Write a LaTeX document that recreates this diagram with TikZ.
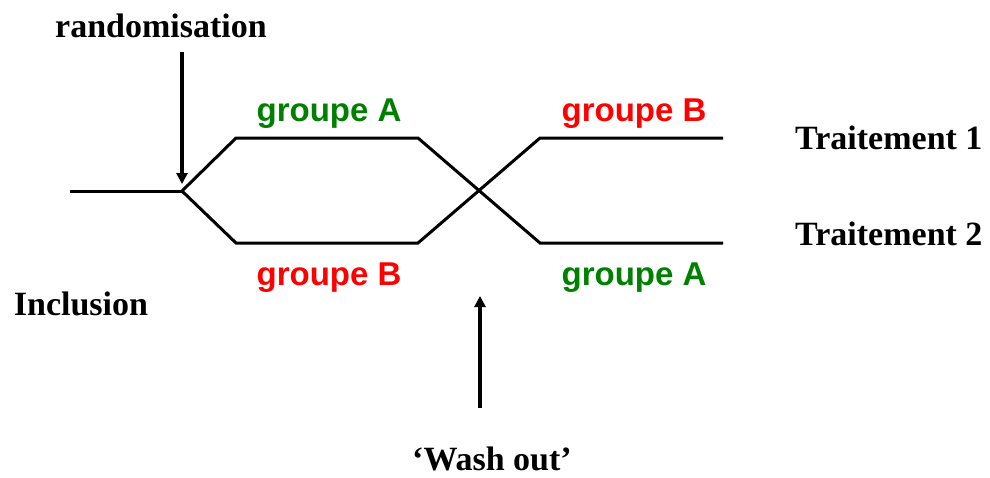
\documentclass[tikz,border=0pt]{standalone}
\usepackage{fontspec}
\setmainfont{Liberation Serif}
\newfontfamily\arialf{Liberation Sans}
\usetikzlibrary{arrows.meta}
\definecolor{grpgreen}{RGB}{0,128,0}
\definecolor{grpred}{RGB}{255,0,0}
\tikzset{
  lbl/.style={font=\fontsize{34}{38}\selectfont\bfseries, inner sep=0pt},
  grp/.style={font=\arialf\fontsize{33}{38}\selectfont\bfseries, inner sep=0pt},
  track/.style={line width=3pt, line join=miter},
  pointer/.style={line width=4pt, -{Triangle[length=11pt,width=11pt]}}
}
\begin{document}
\begin{tikzpicture}[x=1pt,y=-1pt]
\useasboundingbox (0,0) rectangle (990,477);
% track points
\coordinate (start) at (70,191);
\coordinate (split) at (182,191);
\coordinate (ua) at (236,138);
\coordinate (ub) at (418,138);
\coordinate (uc) at (540,243);
\coordinate (ud) at (723,243);
\coordinate (la) at (236,243);
\coordinate (lb) at (418,243);
\coordinate (lc) at (540,138);
\coordinate (ld) at (723,138);
\draw[track] (start) -- (split);
\draw[track] (split) -- (ua) -- (ub) -- (uc) -- (ud);
\draw[track] (split) -- (la) -- (lb) -- (lc) -- (ld);
% labels
\node[lbl] (rand) at (161,26) {randomisation};
\node[lbl] (incl) at (81,304) {Inclusion};
\node[lbl] (wash) at (492,459) {‘Wash out’};
\node[lbl, anchor=west] (t1) at (795,138) {Traitement 1};
\node[lbl, anchor=west] (t2) at (795,234) {Traitement 2};
\node[grp, text=grpgreen] (g1) at (329,114) {groupe A};
\node[grp, text=grpred] (g2) at (329,278) {groupe B};
\node[grp, text=grpred] (g3) at (634,114) {groupe B};
\node[grp, text=grpgreen] (g4) at (634,278) {groupe A};
% arrows
\coordinate (randtop) at (182,52);
\coordinate (randtip) at (182,184);
\coordinate (washbot) at (480,408);
\coordinate (washtip) at (480,296);
\draw[pointer] (randtop) -- (randtip);
\draw[pointer] (washbot) -- (washtip);
\end{tikzpicture}
\end{document}
